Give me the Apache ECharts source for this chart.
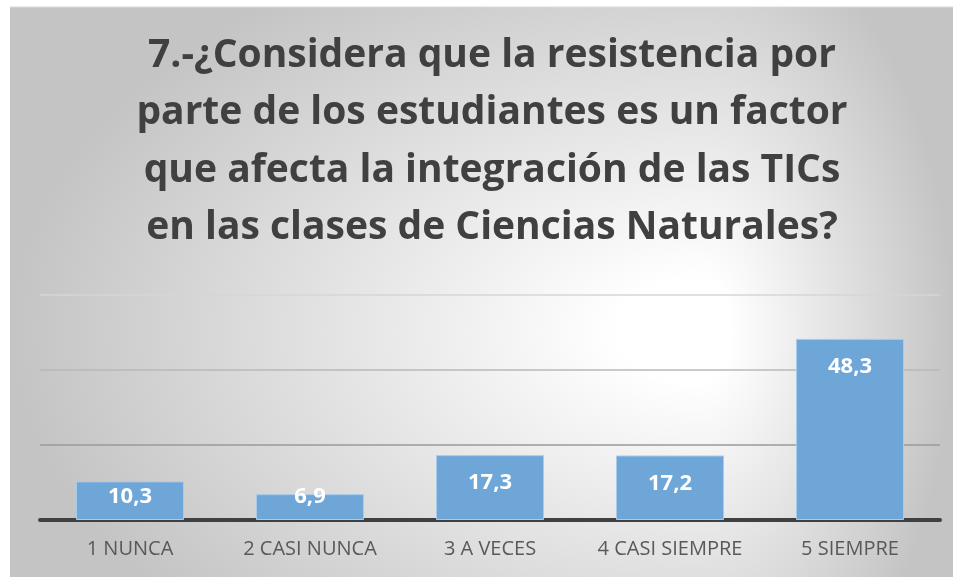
<!DOCTYPE html>
<html>
<head>
<meta charset="utf-8">
<script src="https://cdn.jsdelivr.net/npm/echarts@6/dist/echarts.min.js"></script>
<style>html,body{margin:0;padding:0;background:#fff}#c{width:956px;height:577px}</style>
</head>
<body>
<div id="c"></div>
<script>
const titleLines = [
  '7.-¿Considera que la resistencia por',
  'parte de los estudiantes es un factor',
  'que afecta la integración de las TICs',
  'en las clases de Ciencias Naturales?'
];
const categories = ['1 NUNCA', '2 CASI NUNCA', '3 A VECES', '4 CASI SIEMPRE', '5 SIEMPRE'];
const values = [10.3, 6.9, 17.3, 17.2, 48.3];
const yTicks = [0, 20, 40, 60];

const chart = echarts.init(document.getElementById('c'), null, {renderer: 'canvas'});

const FL = 10, FT = 7, FR = 953, FB = 577;
const CX = 700, CY = 330;
function halfEllipse(x0, x1, rx, ry) {
  const sx = rx / ry;
  return {
    type: 'rect', silent: true, z: -10,
    x: x0, y: FT, scaleX: sx, scaleY: 1,
    shape: {x: 0, y: 0, width: (x1 - x0) / sx, height: FB - FT},
    style: {
      fill: {
        type: 'radial', global: true,
        x: (CX - x0) / sx, y: CY - FT, r: ry,
        colorStops: [
          {offset: 0, color: '#ffffff'},
          {offset: 0.12, color: '#ffffff'},
          {offset: 1, color: '#c4c4c4'}
        ]
      }
    }
  };
}

const option = {
  backgroundColor: '#ffffff',
  animation: false,
  graphic: [
    halfEllipse(FL, CX, CX - FL, 420),
    halfEllipse(CX, FR, FR - CX, 420),
    {type: 'line', silent: true, z: -9, shape: {x1: FL, y1: FT, x2: FR, y2: FT}, style: {stroke: '#d9d9d9', lineWidth: 1}}
  ],
  title: {
    text: titleLines.join('\n'),
    left: 487, top: 22, textAlign: 'center',
    textStyle: {
      fontFamily: 'Open Sans', fontWeight: 'bold', fontSize: 39,
      lineHeight: 57.5, color: '#404040'
    }
  },
  grid: {left: 40, right: 16, top: 295, bottom: 57, containLabel: false},
  xAxis: {
    type: 'category', data: categories,
    axisLine: {show: true, lineStyle: {color: '#404040', width: 4}},
    axisTick: {show: false},
    axisLabel: {color: '#595959', fontFamily: 'Open Sans', fontSize: 20, margin: 19, interval: 0, hideOverlap: false}
  },
  yAxis: {
    type: 'value', min: yTicks[0], max: yTicks[yTicks.length - 1], interval: 20,
    axisLine: {show: false}, axisTick: {show: false}, axisLabel: {show: false},
    splitLine: {lineStyle: {color: ['#404040', '#9a9a9a', '#b8b8b8', '#d6d6d6'], width: 1.5}}
  },
  series: [{
    type: 'bar', barWidth: '60%',
    data: values.map(v => ({
      value: v,
      label: v < 12
        ? {position: 'insideBottom', distance: 12}
        : {position: 'insideTop', distance: 17}
    })),
    itemStyle: {color: '#6fa6d8', borderColor: '#a8cbec', borderWidth: 1},
    label: {
      show: true, color: '#ffffff', fontFamily: 'Open Sans', fontWeight: 'bold',
      fontSize: 22, lineHeight: 22,
      formatter: p => String(p.value).replace('.', ',')
    }
  }]
};
chart.setOption(option);
</script>
</body>
</html>
